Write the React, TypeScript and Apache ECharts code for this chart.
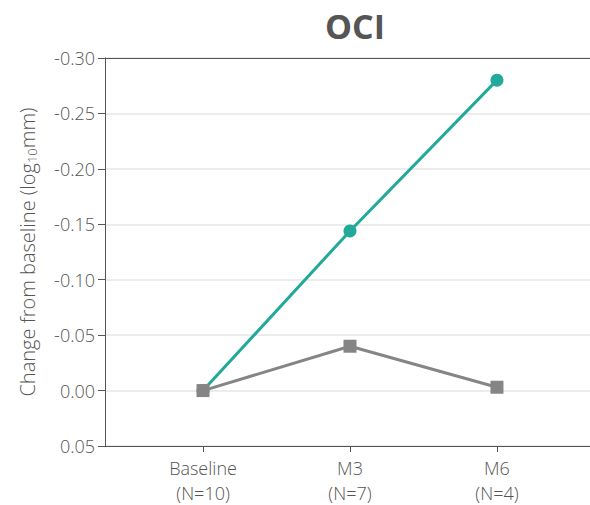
import React, { useEffect, useRef } from "react";
import * as echarts from "echarts";

// Visit labels (positions 0, 1, 2 on the x axis)
const visits = ["Baseline\n(N=10)", "M3\n(N=7)", "M6\n(N=4)"];
const visitPositions = [0, 1, 2];
// Change from baseline (log10 mm)
const tealValues = [0, -0.144, -0.28];
const grayValues = [0, -0.04, -0.003];
const yTicks = [-0.3, -0.25, -0.2, -0.15, -0.1, -0.05, 0, 0.05];

const FONT = "'Open Sans', 'Noto Sans', sans-serif";
const TEXT = "#555555";
const LIGHT = 300;

export default function App() {
  const ref = useRef<HTMLDivElement>(null);

  useEffect(() => {
    if (!ref.current) return;
    const chart = echarts.init(ref.current, null, { renderer: "svg" });
    chart.setOption({
      animation: false,
      textStyle: { fontFamily: FONT },
      title: {
        text: "OCI",
        left: 350,
        textAlign: "center",
        top: 4,
        textStyle: { fontFamily: FONT, fontSize: 34, fontWeight: "bold", color: TEXT },
      },
      grid: { left: 105, right: 0, top: 58, bottom: 55 },
      xAxis: [
        {
          type: "value",
          min: -0.667,
          max: 2.633,
          splitLine: { show: false },
          axisLine: { show: true, onZero: false, lineStyle: { color: TEXT, width: 1 } },
          axisTick: { show: true, length: 6, customValues: visitPositions, lineStyle: { color: TEXT } },
          axisLabel: {
            customValues: visitPositions,
            formatter: (v: number) => visits[Math.round(v)] ?? "",
            color: TEXT,
            fontSize: 18,
            fontWeight: LIGHT,
            lineHeight: 25,
            margin: 9,
            fontFamily: FONT,
          },
        },
        {
          type: "value",
          position: "top",
          min: -0.667,
          max: 2.633,
          splitLine: { show: false },
          axisLine: { show: true, onZero: false, lineStyle: { color: TEXT, width: 1 } },
          axisTick: { show: false },
          axisLabel: { show: false },
        },
      ],
      yAxis: {
        type: "value",
        inverse: true,
        min: yTicks[0],
        max: yTicks[yTicks.length - 1],
        interval: 0.05,
        name: "{a|Change from baseline (log}{s|10}{a|mm)}",
        nameLocation: "middle",
        nameGap: 67,
        nameTextStyle: {
          rich: {
            a: { fontSize: 20, fontWeight: LIGHT, color: TEXT, fontFamily: FONT },
            s: {
              fontSize: 13,
              fontWeight: LIGHT,
              color: TEXT,
              fontFamily: FONT,
              verticalAlign: "bottom",
              padding: [9, 0, 0, 0],
            },
          },
        },
        axisLine: { show: true, onZero: false, lineStyle: { color: TEXT, width: 1 } },
        axisTick: { show: true, length: 7, lineStyle: { color: TEXT } },
        axisLabel: {
          formatter: (v: number) => (Math.abs(v) < 1e-9 ? "0.00" : v.toFixed(2)),
          color: TEXT,
          fontSize: 18,
          fontWeight: LIGHT,
          margin: 10,
          fontFamily: FONT,
        },
        splitLine: { show: true, lineStyle: { color: "#e6e6e6", width: 1.5 } },
      },
      series: [
        {
          type: "line",
          data: visitPositions.map((x, i) => [x, grayValues[i]]),
          symbol: "rect",
          symbolSize: 13,
          lineStyle: { color: "#858585", width: 3 },
          itemStyle: { color: "#858585" },
          z: 2,
        },
        {
          type: "line",
          data: visitPositions.map((x, i) => [x, tealValues[i]]),
          symbol: "circle",
          symbolSize: 13,
          lineStyle: { color: "#22a99a", width: 3 },
          itemStyle: { color: "#22a99a" },
          z: 1,
        },
      ],
    });
    return () => chart.dispose();
  }, []);

  return (
    <div
      ref={ref}
      style={{ position: "absolute", left: 0, top: 0, width: 590, height: 505 }}
    />
  );
}
